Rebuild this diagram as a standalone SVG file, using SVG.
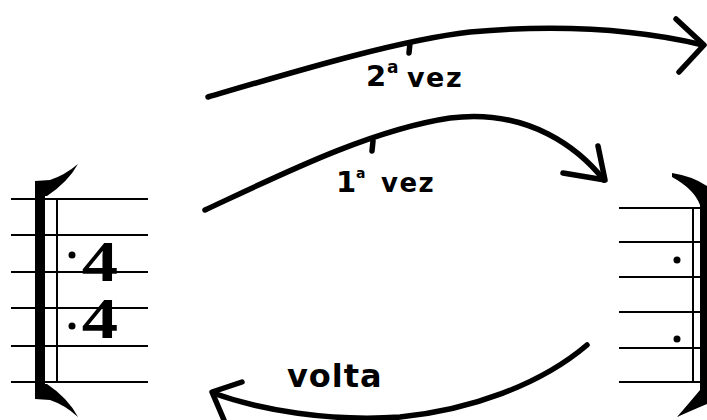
<svg xmlns="http://www.w3.org/2000/svg" width="707" height="420" viewBox="0 0 707 420">
<style>
.staff{stroke:#000;stroke-width:2;fill:none}
.arrow{stroke:#000;stroke-width:5.5;fill:none;stroke-linecap:round;stroke-linejoin:round}
.lbl{font-family:"DejaVu Sans",sans-serif;font-weight:bold;fill:#000}
.ts{font-family:"Liberation Serif",serif;font-weight:bold;font-size:56px;fill:#000;text-anchor:middle}
</style>
<rect width="707" height="420" fill="#fff"/>
<g id="left-staff">
<path class="staff" d="M11,199H148M11,235H148M11,272H148M11,308H148M11,346H148M11,382H148M57,199V382"/>
<rect x="35" y="181" width="10" height="218" fill="#000"/>
<path d="M35,181 L50,180 Q65,175 78,164 Q68,182 47,196 L35,196 Z" fill="#000"/>
<path d="M35,399 L50,400 Q65,405 78,417 Q68,398 47,384 L35,384 Z" fill="#000"/>
<circle cx="72" cy="255" r="3.5" fill="#000"/>
<circle cx="72" cy="326" r="3.5" fill="#000"/>
<text class="ts" transform="translate(100 0) scale(1.3 1)"><tspan x="0" y="281">4</tspan><tspan x="0" y="338">4</tspan></text>
</g>
<g id="right-staff">
<path class="staff" d="M619,208H707M619,242H707M619,277H707M619,312H707M619,348H707M619,382H707M693,208V382"/>
<rect x="700" y="198" width="7" height="196" fill="#000"/>
<path d="M672,173 Q692,176 707,186 L707,205 L700,205 Q694,189 672,177 Z" fill="#000"/>
<path d="M677,417 Q690,402 700,390 L707,390 L707,404 Q695,409 677,417 Z" fill="#000"/>
<circle cx="677" cy="260" r="3.5" fill="#000"/>
<circle cx="677" cy="339" r="3.5" fill="#000"/>
</g>
<g id="connectors">
<path class="arrow" d="M208,97 C300,70 400,40 470,32 C560,24 640,30 703,45"/>
<path class="arrow" d="M676,19 L704,45 L679,72"/>
<path class="arrow" d="M410,43 L409,53" stroke-width="3"/>
<path class="arrow" d="M205,210 C280,175 370,130 450,118 C530,108 580,150 604,180"/>
<path class="arrow" d="M598,146 L605,180 L563,173"/>
<path class="arrow" d="M373,141 L372,151" stroke-width="3"/>
<path class="arrow" d="M587,345 C540,385 470,410 400,417 C330,422 260,410 213,393"/>
<path class="arrow" d="M242,382 L212,392 L224,420"/>
</g>
<g id="labels">
<text class="lbl" x="366" y="86" font-size="29">2</text>
<text class="lbl" x="387" y="73" font-size="17">a</text>
<text class="lbl" x="407" y="87" font-size="27" letter-spacing="1.5">vez</text>
<text class="lbl" x="336" y="192" font-size="29">1</text>
<text class="lbl" x="356" y="178" font-size="14">a</text>
<text class="lbl" x="381" y="192" font-size="26" letter-spacing="1.5">vez</text>
<text class="lbl" x="287" y="387" font-size="32" letter-spacing="1">volta</text>
</g>
</svg>
